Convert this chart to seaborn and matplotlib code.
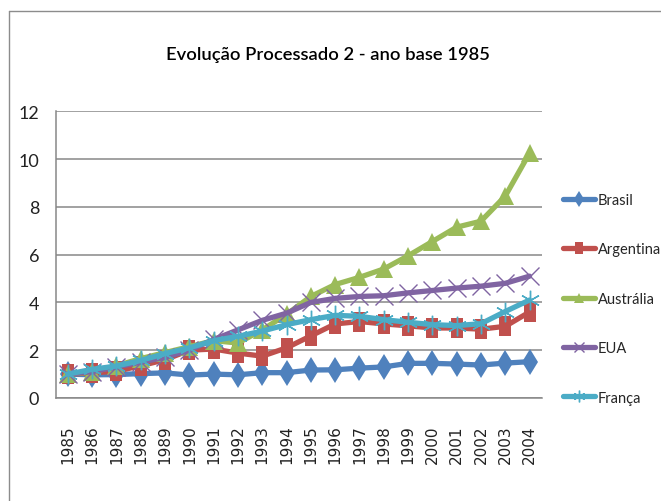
import matplotlib
matplotlib.use("Agg")
import matplotlib.pyplot as plt
import seaborn as sns
import numpy as np
import pandas as pd
from matplotlib.lines import Line2D
from matplotlib.path import Path

# Índice de evolução (1985 = 1)
anos = ["1985", "1986", "1987", "1988", "1989", "1990", "1991", "1992", "1993", "1994",
        "1995", "1996", "1997", "1998", "1999", "2000", "2001", "2002", "2003", "2004"]
brasil = [1.00, 0.97, 0.98, 1.02, 1.05, 0.96, 1.00, 0.97, 1.06, 1.06,
          1.17, 1.18, 1.25, 1.30, 1.45, 1.45, 1.42, 1.38, 1.46, 1.52]
argentina = [1.00, 1.05, 1.12, 1.35, 1.60, 2.00, 2.05, 1.88, 1.75, 2.10,
             2.60, 3.10, 3.20, 3.10, 3.02, 2.93, 2.93, 2.88, 3.00, 3.60]
australia = [1.00, 1.08, 1.35, 1.65, 1.90, 2.15, 2.40, 2.30, 2.85, 3.50,
             4.25, 4.75, 5.05, 5.40, 5.95, 6.55, 7.15, 7.40, 8.45, 10.25]
eua = [1.00, 1.10, 1.30, 1.50, 1.70, 2.00, 2.45, 2.85, 3.25, 3.55,
       4.00, 4.17, 4.25, 4.28, 4.40, 4.50, 4.60, 4.68, 4.80, 5.10]
franca = [1.00, 1.20, 1.34, 1.57, 1.86, 2.10, 2.40, 2.58, 2.80, 3.07,
          3.28, 3.46, 3.42, 3.28, 3.17, 3.07, 3.03, 3.11, 3.62, 4.10]
paises = ["Brasil", "Argentina", "Austrália", "EUA", "França"]
yticks = [0, 2, 4, 6, 8, 10, 12]

sns.set_theme(style="white")
narrow = ["Lato", "DejaVu Sans"]
plt.rcParams["font.family"] = ["DejaVu Sans"]

tall_rect = Path([(-0.6, -1), (0.6, -1), (0.6, 1), (-0.6, 1), (-0.6, -1)],
                 [Path.MOVETO, Path.LINETO, Path.LINETO, Path.LINETO, Path.CLOSEPOLY])

estilos = {
    "Brasil":    dict(color="#4F81BD", marker="d", ms=13, mew=0),
    "Argentina": dict(color="#C0504D", marker=tall_rect, ms=15, mew=0),
    "Austrália": dict(color="#9BBB59", marker="^", ms=13, mew=0),
    "EUA":       dict(color="#8064A2", marker="x", ms=13, mew=1.0),
    "França":    dict(color="#4BACC6", marker=(6, 2, 0), ms=14, mew=1.0),
}

x = np.arange(len(anos))
df = pd.DataFrame({"x": x, "Brasil": brasil, "Argentina": argentina,
                   "Austrália": australia, "EUA": eua, "França": franca})

fig = plt.figure(figsize=(6.61, 5.02), dpi=100)
ax = fig.add_axes([0.0843, 0.2052, 0.7352, 0.5711])

for p in paises:
    st = estilos[p]
    sns.lineplot(data=df, x="x", y=p, ax=ax, color=st["color"], linewidth=3.8,
                 marker=st["marker"], markersize=st["ms"], markeredgewidth=st["mew"],
                 markeredgecolor=st["color"], markerfacecolor=st["color"], label=p)

ax.set_xlim(-0.5, len(anos) - 0.5)
ax.set_ylim(0, 12)
ax.set_yticks(yticks)
ax.set_yticklabels([str(v) for v in yticks], family=narrow, fontsize=13)
ax.set_xticks(x)
ax.set_xticklabels(anos, rotation=90, fontsize=11, family="DejaVu Sans")
ax.tick_params(axis="x", length=0, pad=19, colors="#222222")
ax.tick_params(axis="y", length=0, pad=12, colors="#222222")
ax.set_xlabel("")
ax.set_ylabel("")

ax.grid(axis="y", color="#878787", linewidth=1.1)
ax.grid(axis="x", visible=False)
for s in ["top", "right"]:
    ax.spines[s].set_visible(False)
for s in ["left", "bottom"]:
    ax.spines[s].set_color("#878787")
    ax.spines[s].set_linewidth(1.1)
ax.set_axisbelow(True)

leg = ax.legend(loc="center left", bbox_to_anchor=(0.8517, 0.403),
                bbox_transform=fig.transFigure, frameon=False,
                prop={"family": narrow, "size": 10.5}, handlelength=2.2,
                handletextpad=0.2, labelspacing=2.43, borderpad=0,
                borderaxespad=0, markerscale=0.6)

fig.text(0.496, 0.8904, "Evolução Processado 2 - ano base 1985",
         ha="center", va="center", fontsize=13.2, family=narrow,
         fontweight="semibold", color="#000000")

# moldura da área do gráfico
fig.add_artist(Line2D([9.3 / 661, 9.3 / 661], [0, 1 - 11.7 / 502],
                      transform=fig.transFigure, color="#8c8c8c", linewidth=1))
fig.add_artist(Line2D([9.3 / 661, 1], [1 - 11.7 / 502, 1 - 11.7 / 502],
                      transform=fig.transFigure, color="#8c8c8c", linewidth=1))

fig.savefig("out.png", dpi=100, facecolor="white")
